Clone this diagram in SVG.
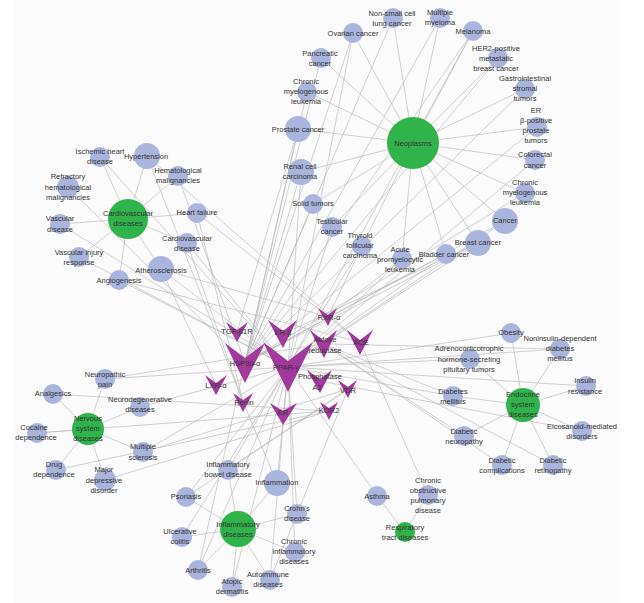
<svg xmlns="http://www.w3.org/2000/svg" width="644" height="603" viewBox="0 0 644 603">
<style>
.e line{stroke:#b4b4b4;stroke-width:0.6}
.d{fill:#aab5dd}
.h{fill:#2fb34a}
.t{fill:#a2399c}
text{font-family:"Liberation Sans",Arial,sans-serif;font-size:7.5px;fill:#333;text-anchor:middle}
</style>
<rect x="0" y="0" width="644" height="603" fill="#ffffff"/>
<rect x="13" y="0" width="607" height="603" fill="#fbfbfb"/>
<g id="connectors" class="e">
<line x1="413" y1="143" x2="393" y2="18"/><line x1="413" y1="143" x2="353" y2="33"/><line x1="413" y1="143" x2="321" y2="58"/><line x1="413" y1="143" x2="307" y2="92"/><line x1="413" y1="143" x2="298" y2="129"/><line x1="413" y1="143" x2="301" y2="172"/><line x1="413" y1="143" x2="313" y2="204"/><line x1="413" y1="143" x2="332" y2="227"/><line x1="413" y1="143" x2="362" y2="246"/><line x1="413" y1="143" x2="402" y2="259"/><line x1="413" y1="143" x2="446" y2="254"/><line x1="413" y1="143" x2="478" y2="243"/><line x1="413" y1="143" x2="505" y2="221"/><line x1="413" y1="143" x2="525" y2="193"/><line x1="413" y1="143" x2="535" y2="160"/><line x1="413" y1="143" x2="537" y2="127"/><line x1="413" y1="143" x2="525" y2="89"/><line x1="413" y1="143" x2="498" y2="58"/><line x1="413" y1="143" x2="473" y2="31"/><line x1="413" y1="143" x2="440" y2="18"/>
<line x1="393" y1="18" x2="245" y2="363"/><line x1="353" y1="33" x2="245" y2="363"/><line x1="353" y1="33" x2="288" y2="367"/><line x1="321" y1="58" x2="245" y2="363"/><line x1="307" y1="92" x2="245" y2="363"/><line x1="298" y1="129" x2="245" y2="363"/><line x1="298" y1="129" x2="237" y2="332"/><line x1="301" y1="172" x2="245" y2="363"/><line x1="301" y1="172" x2="288" y2="367"/><line x1="313" y1="204" x2="245" y2="363"/><line x1="332" y1="227" x2="288" y2="367"/><line x1="362" y1="246" x2="288" y2="367"/><line x1="362" y1="246" x2="328" y2="317"/><line x1="402" y1="259" x2="328" y2="317"/><line x1="402" y1="259" x2="288" y2="367"/><line x1="446" y1="254" x2="288" y2="367"/><line x1="446" y1="254" x2="245" y2="363"/><line x1="478" y1="243" x2="283" y2="334"/><line x1="478" y1="243" x2="288" y2="367"/><line x1="478" y1="243" x2="245" y2="363"/><line x1="505" y1="221" x2="288" y2="367"/><line x1="505" y1="221" x2="245" y2="363"/><line x1="525" y1="193" x2="245" y2="363"/><line x1="535" y1="160" x2="288" y2="367"/><line x1="537" y1="127" x2="283" y2="334"/><line x1="525" y1="89" x2="245" y2="363"/><line x1="498" y1="58" x2="245" y2="363"/><line x1="473" y1="31" x2="245" y2="363"/><line x1="473" y1="31" x2="288" y2="367"/><line x1="440" y1="18" x2="245" y2="363"/><line x1="178" y1="176" x2="245" y2="363"/><line x1="68" y1="187" x2="245" y2="363"/>
<line x1="128" y1="219" x2="100" y2="157"/><line x1="128" y1="219" x2="147" y2="156"/><line x1="128" y1="219" x2="197" y2="213"/><line x1="128" y1="219" x2="60" y2="224"/><line x1="128" y1="219" x2="187" y2="243"/><line x1="128" y1="219" x2="79" y2="257"/><line x1="128" y1="219" x2="161" y2="269"/><line x1="128" y1="219" x2="119" y2="280"/><line x1="128" y1="219" x2="178" y2="176"/>
<line x1="100" y1="157" x2="288" y2="367"/><line x1="147" y1="156" x2="360" y2="342"/><line x1="147" y1="156" x2="243" y2="402"/><line x1="197" y1="213" x2="360" y2="342"/><line x1="197" y1="213" x2="243" y2="402"/><line x1="60" y1="224" x2="288" y2="367"/><line x1="187" y1="243" x2="288" y2="367"/><line x1="187" y1="243" x2="243" y2="402"/><line x1="79" y1="257" x2="288" y2="367"/><line x1="161" y1="269" x2="288" y2="367"/><line x1="161" y1="269" x2="216" y2="385"/><line x1="161" y1="269" x2="328" y2="317"/><line x1="119" y1="280" x2="288" y2="367"/><line x1="119" y1="280" x2="360" y2="342"/>
<line x1="88" y1="429" x2="105" y2="379"/><line x1="88" y1="429" x2="53" y2="394"/><line x1="88" y1="429" x2="140" y2="407"/><line x1="88" y1="429" x2="37" y2="433"/><line x1="88" y1="429" x2="143" y2="452"/><line x1="88" y1="429" x2="56" y2="470"/><line x1="88" y1="429" x2="105" y2="480"/>
<line x1="105" y1="379" x2="288" y2="367"/><line x1="105" y1="379" x2="324" y2="344"/><line x1="53" y1="394" x2="329" y2="411"/><line x1="140" y1="407" x2="288" y2="367"/><line x1="37" y1="433" x2="329" y2="411"/><line x1="143" y1="452" x2="288" y2="367"/><line x1="143" y1="452" x2="348" y2="389"/><line x1="56" y1="470" x2="329" y2="411"/><line x1="105" y1="480" x2="329" y2="411"/>
<line x1="238" y1="529" x2="228" y2="470"/><line x1="238" y1="529" x2="277" y2="483"/><line x1="238" y1="529" x2="297" y2="514"/><line x1="238" y1="529" x2="295" y2="552"/><line x1="238" y1="529" x2="270" y2="580"/><line x1="238" y1="529" x2="232" y2="587"/><line x1="238" y1="529" x2="198" y2="570"/><line x1="238" y1="529" x2="182" y2="537"/><line x1="238" y1="529" x2="186" y2="497"/>
<line x1="228" y1="470" x2="288" y2="367"/><line x1="228" y1="470" x2="348" y2="389"/><line x1="277" y1="483" x2="288" y2="367"/><line x1="277" y1="483" x2="243" y2="402"/><line x1="297" y1="514" x2="288" y2="367"/><line x1="295" y1="552" x2="288" y2="367"/><line x1="270" y1="580" x2="348" y2="389"/><line x1="270" y1="580" x2="288" y2="367"/><line x1="232" y1="587" x2="288" y2="367"/><line x1="198" y1="570" x2="288" y2="367"/><line x1="198" y1="570" x2="245" y2="363"/><line x1="182" y1="537" x2="288" y2="367"/><line x1="186" y1="497" x2="348" y2="389"/><line x1="186" y1="497" x2="288" y2="367"/>
<line x1="405" y1="532" x2="377" y2="496"/><line x1="405" y1="532" x2="428" y2="495"/>
<line x1="377" y1="496" x2="288" y2="367"/><line x1="428" y1="495" x2="360" y2="342"/>
<line x1="523" y1="405" x2="511" y2="333"/><line x1="523" y1="405" x2="560" y2="349"/><line x1="523" y1="405" x2="470" y2="359"/><line x1="523" y1="405" x2="586" y2="386"/><line x1="523" y1="405" x2="453" y2="396"/><line x1="523" y1="405" x2="582" y2="431"/><line x1="523" y1="405" x2="464" y2="436"/><line x1="523" y1="405" x2="502" y2="465"/><line x1="523" y1="405" x2="553" y2="465"/>
<line x1="511" y1="333" x2="288" y2="367"/><line x1="560" y1="349" x2="288" y2="367"/><line x1="560" y1="349" x2="324" y2="344"/><line x1="470" y1="359" x2="288" y2="367"/><line x1="586" y1="386" x2="288" y2="367"/><line x1="453" y1="396" x2="288" y2="367"/><line x1="453" y1="396" x2="324" y2="344"/><line x1="582" y1="431" x2="320" y2="381"/><line x1="464" y1="436" x2="324" y2="344"/><line x1="502" y1="465" x2="324" y2="344"/><line x1="553" y1="465" x2="324" y2="344"/>
</g>
<g id="neoplasms"><circle class="h" cx="413" cy="143" r="26"/><text x="413" y="146">Neoplasms</text></g>
<g id="cardiovascular-diseases"><circle class="h" cx="128" cy="219" r="20"/><text x="128" y="216">Cardiovascular</text><text x="128" y="226">diseases</text></g>
<g id="nervous-system-diseases"><circle class="h" cx="88" cy="429" r="16"/><text x="88" y="421">Nervous</text><text x="88" y="431">system</text><text x="88" y="441">diseases</text></g>
<g id="inflammatory-diseases"><circle class="h" cx="238" cy="529" r="18"/><text x="238" y="527">Inflammatory</text><text x="238" y="537">diseases</text></g>
<g id="endocrine-system-diseases"><circle class="h" cx="523" cy="405" r="17"/><text x="523" y="397">Endocrine</text><text x="523" y="407">system</text><text x="523" y="417">diseases</text></g>
<g id="respiratory-tract-diseases"><circle class="h" cx="405" cy="532" r="10"/><text x="405" y="530">Respiratory</text><text x="405" y="540">tract diseases</text></g>
<g id="nsclc"><circle class="d" cx="393" cy="18" r="10"/><text x="392" y="16">Non-small cell</text><text x="392" y="26">lung cancer</text></g>
<g id="ovarian-cancer"><circle class="d" cx="353" cy="33" r="10"/><text x="353" y="36">Ovarian cancer</text></g>
<g id="pancreatic-cancer"><circle class="d" cx="321" cy="58" r="10"/><text x="320" y="56">Pancreatic</text><text x="320" y="66">cancer</text></g>
<g id="cml-1"><circle class="d" cx="307" cy="92" r="10"/><text x="306" y="84">Chronic</text><text x="306" y="94">myelogenous</text><text x="306" y="104">leukemia</text></g>
<g id="prostate-cancer"><circle class="d" cx="298" cy="129" r="13"/><text x="298" y="132">Prostate cancer</text></g>
<g id="renal-cell-carcinoma"><circle class="d" cx="301" cy="172" r="13"/><text x="300" y="169">Renal cell</text><text x="300" y="179">carcinoma</text></g>
<g id="solid-tumors"><circle class="d" cx="313" cy="204" r="10"/><text x="313" y="206">Solid tumors</text></g>
<g id="testicular-cancer"><circle class="d" cx="332" cy="227" r="10"/><text x="332" y="224">Testicular</text><text x="332" y="234">cancer</text></g>
<g id="thyroid-follicular-carcinoma"><circle class="d" cx="362" cy="246" r="10"/><text x="360" y="238">Thyroid</text><text x="360" y="248">follicular</text><text x="360" y="258">carcinoma</text></g>
<g id="apl"><circle class="d" cx="402" cy="259" r="10"/><text x="400" y="252">Acute</text><text x="400" y="262">promyelocytic</text><text x="400" y="272">leukemia</text></g>
<g id="bladder-cancer"><circle class="d" cx="446" cy="254" r="10"/><text x="444" y="257">Bladder cancer</text></g>
<g id="breast-cancer"><circle class="d" cx="478" cy="243" r="13"/><text x="478" y="245">Breast cancer</text></g>
<g id="cancer"><circle class="d" cx="505" cy="221" r="13"/><text x="505" y="223">Cancer</text></g>
<g id="cml-2"><circle class="d" cx="525" cy="193" r="10"/><text x="525" y="185">Chronic</text><text x="525" y="195">myelogenous</text><text x="525" y="205">leukemia</text></g>
<g id="colorectal-cancer"><circle class="d" cx="535" cy="160" r="10"/><text x="535" y="157">Colorectal</text><text x="535" y="168">cancer</text></g>
<g id="er-positive-prostate"><circle class="d" cx="537" cy="127" r="10"/><text x="536" y="113">ER</text><text x="536" y="123">β-positive</text><text x="536" y="133">prostate</text><text x="536" y="143">tumors</text></g>
<g id="gist"><circle class="d" cx="525" cy="89" r="10"/><text x="525" y="81">Gastrointestinal</text><text x="525" y="91">stromal</text><text x="525" y="101">tumors</text></g>
<g id="her2"><circle class="d" cx="498" cy="58" r="10"/><text x="496" y="51">HER2-positive</text><text x="496" y="61">metastatic</text><text x="496" y="71">breast cancer</text></g>
<g id="melanoma"><circle class="d" cx="473" cy="31" r="10"/><text x="473" y="34">Melanoma</text></g>
<g id="multiple-myeloma"><circle class="d" cx="440" cy="18" r="10"/><text x="440" y="15">Multiple</text><text x="440" y="25">myeloma</text></g>
<g id="ischemic-heart-disease"><circle class="d" cx="100" cy="157" r="10"/><text x="100" y="154">Ischemic heart</text><text x="100" y="164">disease</text></g>
<g id="hypertension"><circle class="d" cx="147" cy="156" r="13"/><text x="146" y="159">Hypertension</text></g>
<g id="hematological-malignancies"><circle class="d" cx="178" cy="176" r="10"/><text x="178" y="173">Hematological</text><text x="178" y="183">malignancies</text></g>
<g id="refractory-hematological-malignancies"><circle class="d" cx="68" cy="187" r="11"/><text x="68" y="179">Refractory</text><text x="68" y="190">hematological</text><text x="68" y="200">malignancies</text></g>
<g id="heart-failure"><circle class="d" cx="197" cy="213" r="10"/><text x="197" y="215">Heart failure</text></g>
<g id="vascular-disease"><circle class="d" cx="60" cy="224" r="10"/><text x="60" y="221">Vascular</text><text x="60" y="232">disease</text></g>
<g id="cardiovascular-disease"><circle class="d" cx="187" cy="243" r="10"/><text x="187" y="241">Cardiovascular</text><text x="187" y="251">disease</text></g>
<g id="vascular-injury-response"><circle class="d" cx="79" cy="257" r="10"/><text x="79" y="255">Vascular injury</text><text x="79" y="265">response</text></g>
<g id="atherosclerosis"><circle class="d" cx="161" cy="269" r="13"/><text x="161" y="273">Atherosclerosis</text></g>
<g id="angiogenesis"><circle class="d" cx="119" cy="280" r="10"/><text x="119" y="283">Angiogenesis</text></g>
<g id="neuropathic-pain"><circle class="d" cx="105" cy="379" r="10"/><text x="105" y="377">Neuropathic</text><text x="105" y="387">pain</text></g>
<g id="analgesics"><circle class="d" cx="53" cy="394" r="10"/><text x="53" y="396">Analgesics</text></g>
<g id="neurodegenerative-diseases"><circle class="d" cx="140" cy="407" r="10"/><text x="140" y="402">Neurodegenerative</text><text x="140" y="412">diseases</text></g>
<g id="cocaine-dependence"><circle class="d" cx="37" cy="433" r="10"/><text x="34" y="430">Cocaine</text><text x="36" y="440">dependence</text></g>
<g id="multiple-sclerosis"><circle class="d" cx="143" cy="452" r="10"/><text x="143" y="449">Multiple</text><text x="143" y="460">sclerosis</text></g>
<g id="drug-dependence"><circle class="d" cx="56" cy="470" r="10"/><text x="54" y="467">Drug</text><text x="54" y="477">dependence</text></g>
<g id="major-depressive-disorder"><circle class="d" cx="105" cy="480" r="11"/><text x="104" y="472">Major</text><text x="104" y="483">depressive</text><text x="104" y="493">disorder</text></g>
<g id="psoriasis"><circle class="d" cx="186" cy="497" r="10"/><text x="186" y="499">Psoriasis</text></g>
<g id="ulcerative-colitis"><circle class="d" cx="182" cy="537" r="10"/><text x="180" y="534">Ulcerative</text><text x="180" y="544">colitis</text></g>
<g id="arthritis"><circle class="d" cx="198" cy="570" r="10"/><text x="198" y="573">Arthritis</text></g>
<g id="inflammatory-bowel-disease"><circle class="d" cx="228" cy="470" r="10"/><text x="228" y="467">Inflammatory</text><text x="228" y="477">bowel disease</text></g>
<g id="inflammation"><circle class="d" cx="277" cy="483" r="13"/><text x="277" y="485">Inflammation</text></g>
<g id="crohns-disease"><circle class="d" cx="297" cy="514" r="10"/><text x="297" y="511">Crohn's</text><text x="297" y="521">disease</text></g>
<g id="chronic-inflammatory-diseases"><circle class="d" cx="295" cy="552" r="10"/><text x="294" y="544">Chronic</text><text x="294" y="554">inflammatory</text><text x="294" y="564">diseases</text></g>
<g id="autoimmune-diseases"><circle class="d" cx="270" cy="580" r="10"/><text x="268" y="577">Autoimmune</text><text x="268" y="587">diseases</text></g>
<g id="atopic-dermatitis"><circle class="d" cx="232" cy="587" r="10"/><text x="232" y="584">Atopic</text><text x="232" y="594">dermatitis</text></g>
<g id="asthma"><circle class="d" cx="377" cy="496" r="10"/><text x="377" y="499">Asthma</text></g>
<g id="copd"><circle class="d" cx="428" cy="495" r="10"/><text x="428" y="483">Chronic</text><text x="428" y="493">obstructive</text><text x="428" y="503">pulmonary</text><text x="428" y="513">disease</text></g>
<g id="obesity"><circle class="d" cx="511" cy="333" r="10"/><text x="511" y="335">Obesity</text></g>
<g id="niddm"><circle class="d" cx="560" cy="349" r="10"/><text x="560" y="341">Noninsulin-dependent</text><text x="560" y="351">diabetes</text><text x="560" y="361">mellitus</text></g>
<g id="acth-tumors"><circle class="d" cx="470" cy="359" r="10"/><text x="469" y="351">Adrenocorticotrophic</text><text x="469" y="362">hormone-secreting</text><text x="469" y="372">pituitary tumors</text></g>
<g id="insulin-resistance"><circle class="d" cx="586" cy="386" r="10"/><text x="585" y="383">Insulin</text><text x="585" y="394">resistance</text></g>
<g id="diabetes-mellitus"><circle class="d" cx="453" cy="396" r="10"/><text x="453" y="394">Diabetes</text><text x="453" y="404">mellitus</text></g>
<g id="eicosanoid-mediated-disorders"><circle class="d" cx="582" cy="431" r="10"/><text x="582" y="429">Eicosanoid-mediated</text><text x="582" y="439">disorders</text></g>
<g id="diabetic-neuropathy"><circle class="d" cx="464" cy="436" r="10"/><text x="464" y="434">Diabetic</text><text x="464" y="444">neuropathy</text></g>
<g id="diabetic-complications"><circle class="d" cx="502" cy="465" r="10"/><text x="502" y="463">Diabetic</text><text x="502" y="473">complications</text></g>
<g id="diabetic-retinopathy"><circle class="d" cx="553" cy="465" r="10"/><text x="553" y="463">Diabetic</text><text x="553" y="473">retinopathy</text></g>
<g id="tgf-b1r"><polygon class="t" points="226,322 237,330 248,322 237,342"/><text x="237" y="334">TGF-β1R</text></g>
<g id="er-b"><polygon class="t" points="268,320 283,331 297,320 283,348"/><text x="283" y="335">ER-β</text></g>
<g id="rxr-a"><polygon class="t" points="318,308 328,315 337,308 328,326"/><text x="329" y="320">RXR-α</text></g>
<g id="aldose-reductase"><polygon class="t" points="310,330 324,341 337,330 324,358"/><text x="325" y="342">Aldose</text><text x="325" y="353">reductase</text></g>
<g id="ace"><polygon class="t" points="347,330 360,340 373,330 360,355"/><text x="361" y="345">ACE</text></g>
<g id="hsp90-a"><polygon class="t" points="225,343 245,358 265,343 245,383"/><text x="245" y="366">HSP90-α</text></g>
<g id="ppar-g"><polygon class="t" points="263,342 288,361 313,342 288,392"/><text x="286" y="370">PPAR-γ</text></g>
<g id="phosphatase"><polygon class="t" points="307,370 320,379 332,370 320,393"/><text x="320" y="379">Phosphatase</text><text x="317" y="390">A2</text></g>
<g id="vdr"><polygon class="t" points="338,380 348,387 357,380 348,398"/><text x="348" y="393">VDR</text></g>
<g id="lxr-a"><polygon class="t" points="205,375 216,383 227,375 216,395"/><text x="216" y="388">LXR-α</text></g>
<g id="renin"><polygon class="t" points="233,393 243,400 253,393 243,412"/><text x="244" y="405">Renin</text></g>
<g id="er"><polygon class="t" points="270,403 283,411 297,403 283,425"/><text x="283" y="415">ER</text></g>
<g id="kor2"><polygon class="t" points="320,402 329,408 338,402 329,420"/><text x="329" y="413">KOR2</text></g>
</svg>
